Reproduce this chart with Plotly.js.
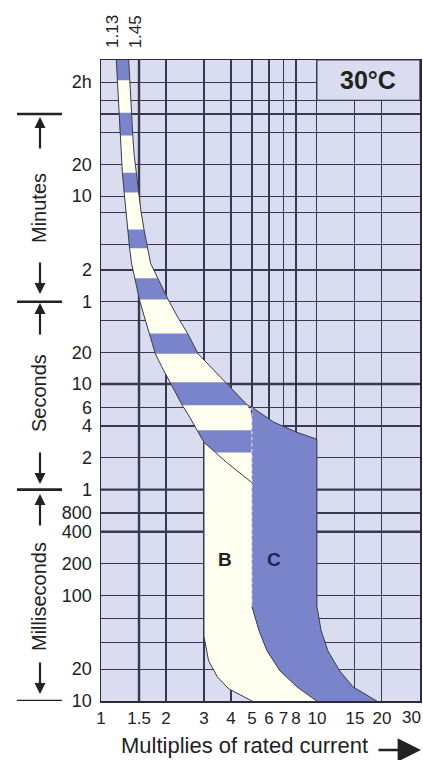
<!DOCTYPE html>
<html>
<head>
<meta charset="utf-8">
<script src="https://cdn.plot.ly/plotly-3.0.1.min.js"></script>
<style>
html,body{margin:0;padding:0;background:#ffffff;}
#chart{width:423px;height:760px;}
</style>
</head>
<body>
<div id="chart"></div>
<script>
// ---------------- data ----------------
// x: multiples of rated current, y: tripping time in seconds
const xTickVals = [1, 1.5, 2, 3, 4, 5, 6, 7, 8, 10, 15, 20, 30];
const xTickText = ['1', '1.5', '2', '3', '4', '5', '6', '7', '8', '10', '15', '20', '30'];
const yTickVals = [7200, 1200, 600, 120, 60, 20, 10, 6, 4, 2, 1, 0.6, 0.4, 0.2, 0.1, 0.02, 0.01];
const yTickText = ['2h', '20', '10', '2', '1', '20', '10', '6', '4', '2', '1', '800', '400', '200', '100', '20', '10'];
const yMinorVals = [4850, 3600, 2400, 420, 210, 40, 0.06, 0.036];
const thickY = [10, 1, 0.4];
const thickX = [1.5];
const unitBars = [3600, 60, 1, 0.01];
const topMarks = [1.13, 1.45];

// thermal (overload) band: edge positions read at these times
const bandT = [13000, 7500, 5300, 3700, 2250, 1500, 1000, 650, 435, 290, 193, 139, 100, 63, 43.5, 30, 19.3, 14.2, 10.4, 6.3, 4.85, 3.65, 2.8, 2.25, 1.81, 1.166];
const bandL = [1.174, 1.191, 1.198, 1.209, 1.225, 1.237, 1.256, 1.280, 1.302, 1.329, 1.357, 1.385, 1.434, 1.507, 1.587, 1.673, 1.786, 1.924, 2.083, 2.379, 2.577, 2.782, 3.0, 3.386, 3.821, 5.0];
const bandR = [1.340, 1.357, 1.368, 1.381, 1.404, 1.423, 1.454, 1.493, 1.531, 1.582, 1.640, 1.697, 1.833, 2.047, 2.258, 2.521, 2.818, 3.252, 3.795, 4.77, 5, 5, 5, 5, 5, 5];
const blueStripes = [[13000, 7500], [3700, 2250], [1000, 650], [290, 193], [100, 63], [30, 19.3], [10.4, 6.3], [3.65, 2.25]];

// type B zone left edge
const bLeftT = [2.8, 0.0407, 0.024, 0.0169, 0.013, 0.01, 0.009];
const bLeftI = [3, 3, 3.15, 3.46, 3.91, 5.0, 5.8];
// boundary between B and C
const bcT = [6.04, 0.0786, 0.0464, 0.0299, 0.0193, 0.0136, 0.01, 0.009];
const bcI = [5, 5, 5.39, 5.87, 6.74, 8.08, 10.0, 10.7];
// type C zone top and right edge
const cTopT = [6.04, 4.35, 3.49, 3.0];
const cTopI = [5, 6.32, 8.08, 10];
const cRightT = [3.0, 0.0786, 0.0464, 0.0299, 0.0193, 0.0136, 0.0098, 0.009];
const cRightI = [10, 10, 10.46, 11.24, 12.74, 14.7, 19.3, 20.6];

// ---------------- style ----------------
const FONT = 'Liberation Sans, Arial, Helvetica, sans-serif';
const BG = '#dadcf0', GRID = '#383852', BLUE = '#7a84ca', CREAM = '#fffff0', INK = '#222222', EDGE = '#3a3a4a';
const LOG = Math.log10;
const PT = 60, PB = 701, PL = 101, PR = 420;
const py2paper = py => (PB - py) / (PB - PT);
const px2paper = px => (px - PL) / (PR - PL);

const traces = [];
const area = (x, y, color) => ({x, y, mode: 'lines', fill: 'toself', fillcolor: color, line: {width: 0}, hoverinfo: 'skip'});
const edge = (x, y, extra) => Object.assign({x, y, mode: 'lines', line: {color: EDGE, width: 1}, hoverinfo: 'skip'}, extra || {});

// band (white)
traces.push(area(bandL.concat(bandR.slice().reverse()), bandT.concat(bandT.slice().reverse()), CREAM));
// blue stripes
blueStripes.forEach(([hi, lo]) => {
  const i = bandT.indexOf(hi), j = bandT.indexOf(lo);
  const xs = bandL.slice(i, j + 1).concat(bandR.slice(i, j + 1).reverse());
  const ys = bandT.slice(i, j + 1).concat(bandT.slice(i, j + 1).reverse());
  traces.push(area(xs, ys, BLUE));
});
// B zone
const n = bandT.length;
const bX = bLeftI.concat(bcI.slice(1).reverse(), [bandL[n - 1], bandL[n - 2]]);
const bY = bLeftT.concat(bcT.slice(1).reverse(), [bandT[n - 1], bandT[n - 2]]);
traces.push(area(bX, bY, CREAM));
// C zone
const cX = cTopI.concat(cRightI.slice(1), bcI.slice().reverse());
const cY = cTopT.concat(cRightT.slice(1), bcT.slice().reverse());
traces.push(area(cX, cY, BLUE));
// edges
traces.push(edge(bandL, bandT));
const kR = bandR.indexOf(5);
traces.push(edge(bandR.slice(0, kR).concat(cTopI, cRightI.slice(1)), bandT.slice(0, kR).concat(cTopT, cRightT.slice(1))));
traces.push(edge(bLeftI, bLeftT));
traces.push(edge(bcI.slice(1), bcT.slice(1)));
traces.push(edge([bcI[0], bcI[1]], [bcT[0], bcT[1]], {line: {color: 'rgba(255,255,255,0.85)', width: 1, dash: 'dot'}}));

// ---------------- shapes ----------------
const shapes = [];
thickY.forEach(v => shapes.push({type: 'line', layer: 'between', xref: 'paper', x0: 0, x1: 1, yref: 'y', y0: v, y1: v, line: {color: GRID, width: 2.4}}));
thickX.forEach(v => shapes.push({type: 'line', layer: 'between', yref: 'paper', y0: 0, y1: 1, xref: 'x', x0: v, x1: v, line: {color: GRID, width: 2.4}}));
// 30°C box
shapes.push({type: 'rect', layer: 'between', xref: 'x', yref: 'y', x0: 10, x1: 30, y0: 4850, y1: 11700, fillcolor: BG, line: {color: GRID, width: 1.2}});
// unit separator bars on the left
unitBars.forEach(v => shapes.push({type: 'line', xref: 'paper', x0: px2paper(17), x1: px2paper(62), yref: 'y', y0: v, y1: v, line: {color: INK, width: 2.6}}));

// ---------------- annotations ----------------
const annotations = [];
annotations.push({text: '<b>30°C</b>', xref: 'x', yref: 'paper', x: LOG(17.3), y: py2paper(80), xanchor: 'center', yanchor: 'middle', showarrow: false, font: {family: FONT, size: 25, color: INK}});
topMarks.forEach(v => annotations.push({text: String(v), xref: 'x', x: LOG(v), yref: 'paper', y: 1, xanchor: 'center', yanchor: 'bottom', yshift: 10, textangle: -90, showarrow: false, font: {family: FONT, size: 17, color: INK}}));
// last x tick label, nudged inside the page as far as it goes
annotations.push({text: xTickText[xTickText.length - 1], xref: 'x', x: LOG(xTickVals[xTickVals.length - 1]), yref: 'paper', y: 0, xanchor: 'right', yanchor: 'top', xshift: 3, yshift: -5, showarrow: false, font: {family: FONT, size: 17, color: INK}});
annotations.push({text: 'Multiplies of rated current', xref: 'paper', yref: 'paper', x: px2paper(244), y: py2paper(745), xanchor: 'center', yanchor: 'middle', showarrow: false, font: {family: FONT, size: 22, color: INK}});
annotations.push({text: '', xref: 'paper', yref: 'paper', x: px2paper(421), y: py2paper(750), ax: -44, ay: 0, showarrow: true, arrowhead: 2, arrowsize: 1.8, arrowwidth: 2.6, arrowcolor: INK});
const sections = [['Minutes', 117, 208, 294], ['Seconds', 303, 393, 484], ['Milliseconds', 494, 597, 694]];
sections.forEach(([label, top, mid, bot]) => {
  annotations.push({text: label, xref: 'paper', yref: 'paper', x: px2paper(39), y: py2paper(mid), xanchor: 'center', yanchor: 'middle', textangle: -90, showarrow: false, font: {family: FONT, size: 20, color: INK}});
  annotations.push({text: '', xref: 'paper', yref: 'paper', x: px2paper(40), y: py2paper(top), ax: 0, ay: 33, showarrow: true, arrowhead: 2, arrowsize: 1, arrowwidth: 2.2, arrowcolor: INK});
  annotations.push({text: '', xref: 'paper', yref: 'paper', x: px2paper(40), y: py2paper(bot), ax: 0, ay: -33, showarrow: true, arrowhead: 2, arrowsize: 1, arrowwidth: 2.2, arrowcolor: INK});
});
annotations.push({text: '<b>B</b>', xref: 'x', yref: 'y', x: LOG(3.75), y: LOG(0.22), showarrow: false, font: {family: FONT, size: 19, color: INK}});
annotations.push({text: '<b>C</b>', xref: 'x', yref: 'y', x: LOG(6.3), y: LOG(0.22), showarrow: false, font: {family: FONT, size: 19, color: '#1e2450'}});

const layout = {
  width: 423, height: 760,
  margin: {l: 101, r: 3, t: 60, b: 59, pad: 0},
  paper_bgcolor: '#ffffff', plot_bgcolor: BG,
  showlegend: false, hovermode: false,
  xaxis: {
    type: 'log', range: [0, LOG(30) + 0.0005], tickmode: 'array', tickvals: xTickVals,
    ticktext: xTickText.slice(0, -1).concat(['']),
    tickangle: 0, ticks: '', showgrid: true, gridcolor: GRID, gridwidth: 1.2, zeroline: false,
    showline: true, mirror: true, linecolor: '#2a2a3a', linewidth: 1.5,
    tickfont: {family: FONT, size: 17, color: INK}, ticklabelstandoff: 1, fixedrange: true
  },
  yaxis: {
    type: 'log', range: [-2.0005, 4.067], tickmode: 'array', tickvals: yTickVals, ticktext: yTickText,
    ticks: '', showgrid: true, gridcolor: GRID, gridwidth: 1.2, zeroline: false,
    minor: {tickmode: 'array', tickvals: yMinorVals, showgrid: true, gridcolor: GRID, gridwidth: 1.2, ticks: ''},
    showline: true, mirror: true, linecolor: '#2a2a3a', linewidth: 1.5,
    tickfont: {family: FONT, size: 18, color: INK}, ticklabelstandoff: 4, fixedrange: true
  },
  shapes, annotations
};

Plotly.newPlot('chart', traces, layout, {staticPlot: true, displayModeBar: false});
</script>
</body>
</html>
